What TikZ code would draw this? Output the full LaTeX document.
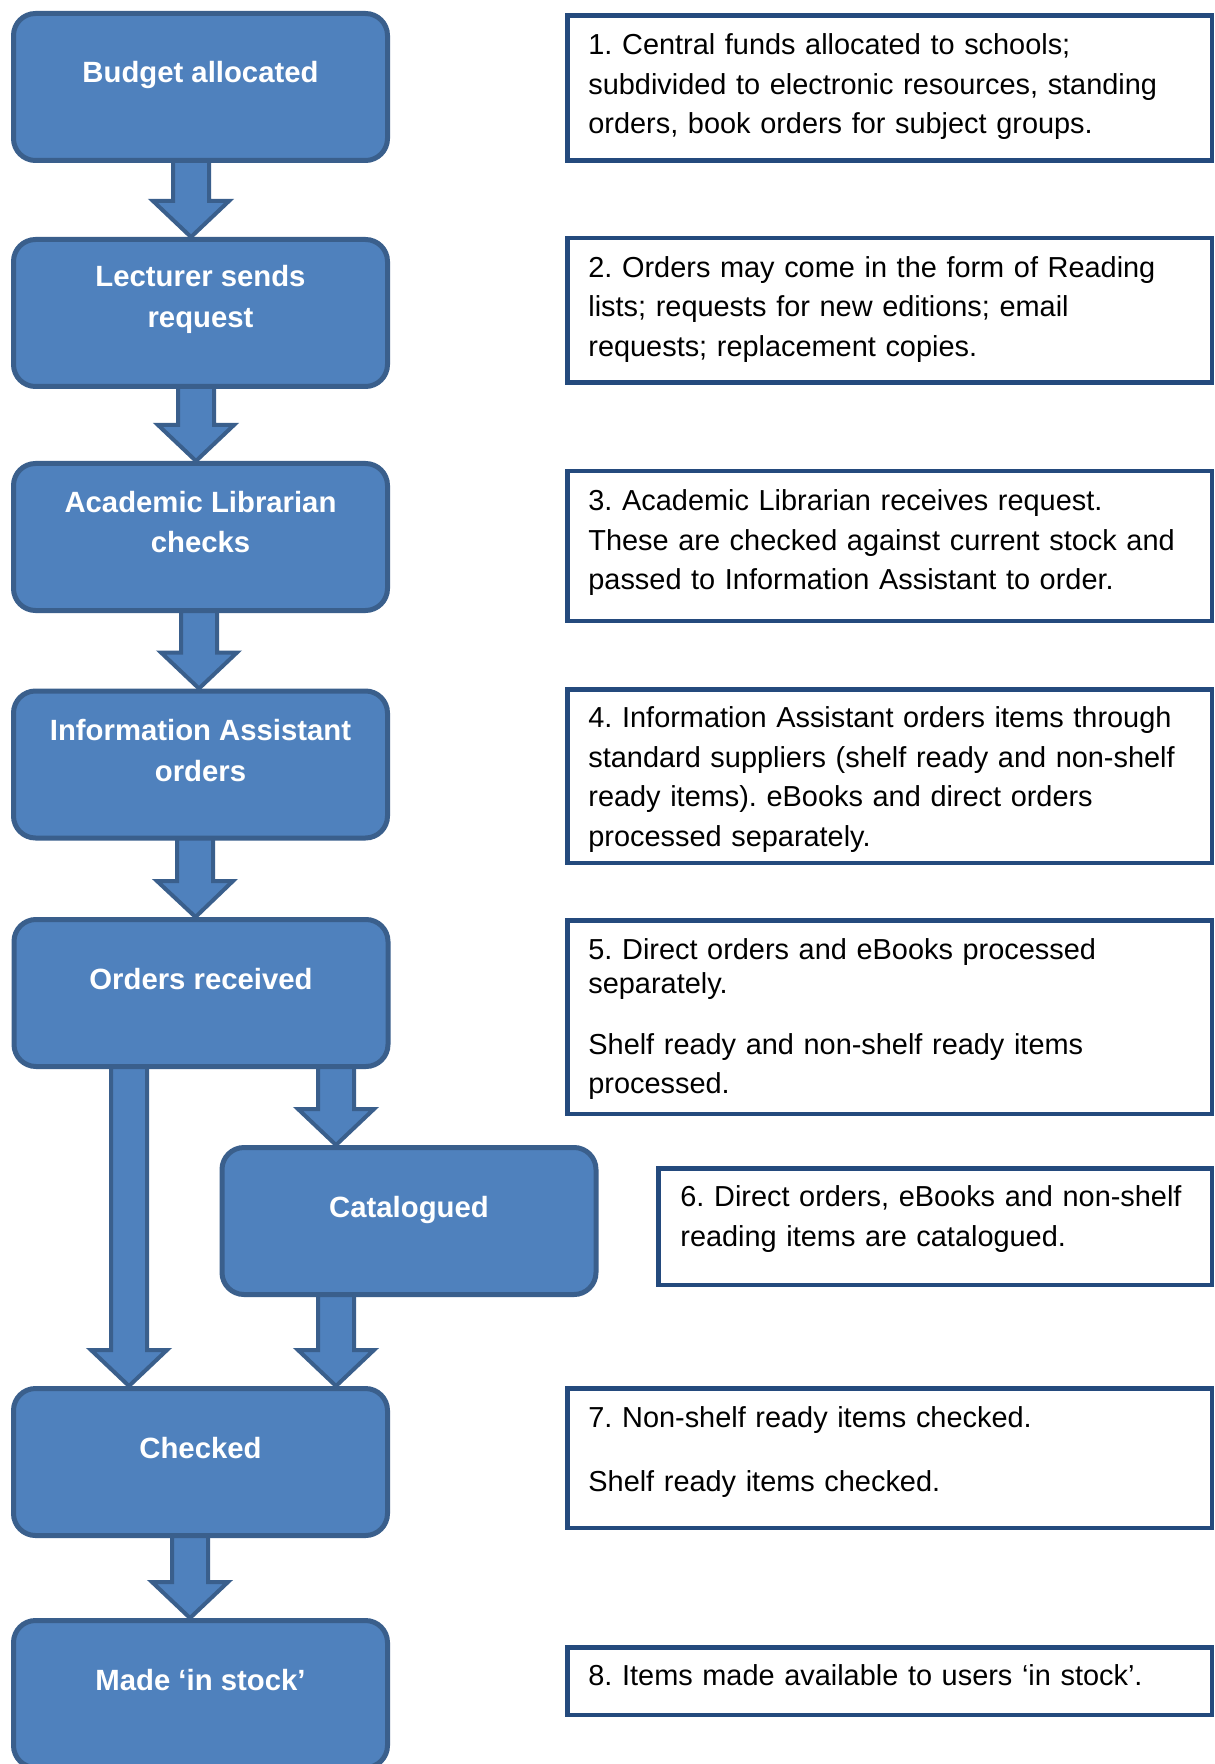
\documentclass[tikz,border=0pt]{standalone}
\usepackage{fontspec}
\setmainfont{Liberation Sans}
\usetikzlibrary{calc}
\frenchspacing
\definecolor{boxfill}{HTML}{4F81BD}
\definecolor{boxline}{HTML}{3A5F8C}
\definecolor{noteline}{HTML}{244A7D}
\newcommand{\blockarrow}[2]{%
  \draw[barrow] let \p1=#1, \p2=#2 in
    (\x1-9pt,\y1+1pt) -- (\x1-9pt,\y2+18pt) -- (\x1-19pt,\y2+18pt) -- (\x2,\y2)
    -- (\x1+19pt,\y2+18pt) -- (\x1+9pt,\y2+18pt) -- (\x1+9pt,\y1+1pt) -- cycle;}
\begin{document}
\begin{tikzpicture}[x=0.5pt,y=-0.5pt,
  lbox/.style={draw=boxline, fill=boxfill, line width=2.5pt, rounded corners=11pt,
    minimum width=187pt, minimum height=73.5pt, inner sep=0pt},
  ltext/.style={text=white, font=\fontsize{14.65}{20.25}\selectfont\bfseries,
    align=center, inner sep=0pt},
  rbox/.style={draw=noteline, line width=2.25pt, anchor=north west, inner sep=0pt},
  rtext/.style={anchor=north west, font=\fontsize{14.45}{19.7}\selectfont,
    align=left, text width=300pt, inner sep=0pt},
  barrow/.style={draw=boxline, fill=boxfill, line width=2pt, line join=miter}]
\useasboundingbox (0,0) rectangle (1214,1764);
\clip (0,0) rectangle (1214,1764);
\fill[white] (0,0) rectangle (1214,1764);

% left process boxes
\node[lbox] (b1) at (200.5,87) {};
\node[lbox] (b2) at (200.5,313) {};
\node[lbox] (b3) at (200.5,537) {};
\node[lbox] (b4) at (200.5,764.5) {};
\node[lbox] (b5) at (201,993) {};
\node[lbox] (b6) at (409,1221) {};
\node[lbox] (b7) at (200.5,1462) {};
\node[lbox] (b8) at (200.5,1694) {};

\node[ltext] (t1) at ($(b1.north)+(0,64)$) {Budget allocated};
\node[ltext] (t2) at ($(b2.north)+(0,62.5)$) {Lecturer sends\\request};
\node[ltext] (t3) at ($(b3.north)+(0,61)$) {Academic Librarian\\checks};
\node[ltext] (t4) at ($(b4.north)+(0,62)$) {Information Assistant\\orders};
\node[ltext] (t5) at ($(b5.north)+(0,62)$) {Orders received};
\node[ltext] (t6) at ($(b6.north)+(0,65)$) {Catalogued};
\node[ltext] (t7) at ($(b7.north)+(0,62)$) {Checked};
\node[ltext] (t8) at ($(b8.north)+(0,62)$) {Made ‘in stock’};

% block arrows
\blockarrow{($(b1.south)+(-9.5,0)$)}{($(b2.north)+(-9.5,0)$)}
\blockarrow{($(b2.south)+(-4.5,0)$)}{($(b3.north)+(-4.5,0)$)}
\blockarrow{($(b3.south)+(-1.5,0)$)}{($(b4.north)+(-1.5,0)$)}
\blockarrow{($(b4.south)+(-5.5,0)$)}{($(b5.north)+(-5.5,0)$)}
\blockarrow{($(b5.south)+(-72,0)$)}{($(b7.north)+(-71.5,0)$)}
\blockarrow{($(b5.south)+(135,0)$)}{($(b6.north)+(-73,0)$)}
\blockarrow{($(b6.south)+(-73,0)$)}{($(b7.north)+(135.5,0)$)}
\blockarrow{($(b7.south)+(-10.5,0)$)}{($(b8.north)+(-10.5,0)$)}

% note boxes
\node[rbox, minimum width=322.25pt, minimum height=72.5pt] (r1) at (565,13.5) {};
\node[rbox, minimum width=322.25pt, minimum height=72.25pt] (r2) at (565,236) {};
\node[rbox, minimum width=322.25pt, minimum height=74.75pt] (r3) at (565,469) {};
\node[rbox, minimum width=322.25pt, minimum height=86.75pt] (r4) at (565,687) {};
\node[rbox, minimum width=322.25pt, minimum height=96.75pt] (r5) at (565,918) {};
\node[rbox, minimum width=276.75pt, minimum height=58.25pt] (r6) at (656,1166) {};
\node[rbox, minimum width=322.25pt, minimum height=69.75pt] (r7) at (565,1386) {};
\node[rbox, minimum width=322.25pt, minimum height=33.75pt] (r8) at (565,1645) {};

\node[rtext] (n1) at ($(r1.north west)+(23,13.5)$) {\strut 1. Central funds allocated to schools;\\subdivided to electronic resources, standing\\orders, book orders for subject groups.};
\node[rtext] (n2) at ($(r2.north west)+(23,13.5)$) {\strut 2. Orders may come in the form of Reading\\lists; requests for new editions; email\\requests; replacement copies.};
\node[rtext] (n3) at ($(r3.north west)+(23,14)$) {\strut 3. Academic Librarian receives request.\\These are checked against current stock and\\passed to Information Assistant to order.};
\node[rtext] (n4) at ($(r4.north west)+(23,13)$) {\strut 4. Information Assistant orders items through\\standard suppliers (shelf ready and non-shelf\\ready items). eBooks and direct orders\\processed separately.};
\node[rtext] (n5) at ($(r5.north west)+(23,14)$) {\strut 5. Direct orders and eBooks processed\\[-2.8pt]separately.\\[10.7pt]Shelf ready and non-shelf ready items\\processed.};
\node[rtext] (n6) at ($(r6.north west)+(24,13)$) {\strut 6. Direct orders, eBooks and non-shelf\\reading items are catalogued.};
\node[rtext] (n7) at ($(r7.north west)+(23,14)$) {\strut 7. Non-shelf ready items checked.\\[12.3pt]Shelf ready items checked.};
\node[rtext] (n8) at ($(r8.north west)+(23,12)$) {\strut 8. Items made available to users ‘in stock’.};
\end{tikzpicture}
\end{document}
